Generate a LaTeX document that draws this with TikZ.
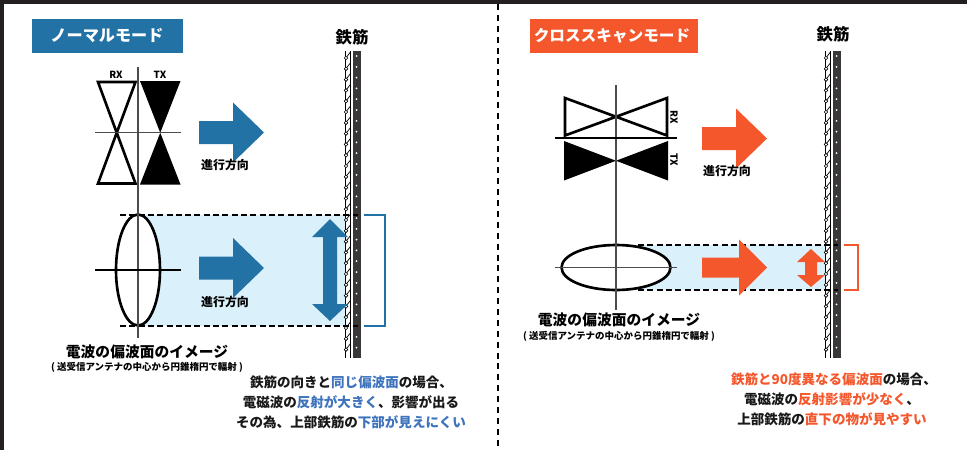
\documentclass[tikz,border=0pt]{standalone}
\usepackage{fontspec}
\setmainfont{Noto Sans CJK JP}
\usetikzlibrary{calc,positioning}
\definecolor{modeblue}{HTML}{2272A6}
\definecolor{modered}{HTML}{F4572C}
\definecolor{wavesky}{HTML}{DAF0FB}
\definecolor{barkgray}{HTML}{3A3738}
\definecolor{textblue}{HTML}{3F74BC}
\definecolor{framedark}{HTML}{231F20}
\tikzset{
    jptext/.style={font=\bfseries\fontsize{7.7pt}{9pt}\selectfont,text=black!90,inner sep=0pt,align=center},
    titletext/.style={font=\bfseries\fontsize{9.2pt}{11pt}\selectfont,text=white,inner sep=0pt},
    smalltext/.style={font=\bfseries\fontsize{6.8pt}{8pt}\selectfont,inner sep=0pt},
    capttext/.style={font=\bfseries\fontsize{8.4pt}{10pt}\selectfont,inner sep=0pt},
    subtext/.style={font=\bfseries\fontsize{5.4pt}{6pt}\selectfont,inner sep=0pt},
    antlabel/.style={font=\bfseries\fontsize{5.6pt}{6pt}\selectfont,inner sep=0pt},
    axisline/.style={line width=0.7pt,black!70},
    bowtie/.style={line width=1.5pt,black,line join=miter},
    waveedge/.style={line width=1pt,dash pattern=on 3.4pt off 1.9pt},
}
\begin{document}
\begin{tikzpicture}[x=0.02cm,y=-0.02cm]
    \useasboundingbox (0,0) rectangle (967,450);

    % frame and divider
    \fill[framedark] (0,0) rectangle (967,4);
    \fill[framedark] (0,0) rectangle (4,450);
    \draw[line width=0.75pt,black,dash pattern=on 3.4pt off 2.8pt] (498,4) -- (498,450);

    % mode titles
    \fill[modeblue] (32,19) rectangle (183,53);
    \node[titletext] (normaltitle) at (107,36) {ノーマルモード};
    \fill[modered] (530,19) rectangle (698,53);
    \node[titletext,font=\bfseries\fontsize{8.9pt}{11pt}\selectfont] (crosstitle) at (612,36) {クロススキャンモード};

    % beam areas
    \fill[wavesky] (138,215) rectangle (345,326);
    \fill[wavesky] (638,245) rectangle (825,290);

    % rebar columns
    \foreach \bar in {345,825}{
        \fill[white] (\bar,51) rectangle (\bar+6,358);
        \fill[barkgray] (\bar+8,51) rectangle (\bar+16,358);
        \draw[line width=0.5pt] (\bar,51) -- (\bar,358);
        \draw[line width=0.5pt] (\bar+5.5,51) -- (\bar+5.5,358);
        \foreach \rung in {56,66.8,...,356}{
            \draw[line width=0.4pt] (\bar,\rung+3) -- (\bar+5.5,\rung-4);
            \filldraw[fill=white,line width=0.35pt] (\bar+1,\rung+2) circle (1.8);
            \fill[white] (\bar+11.5,\rung) circle (1);
        }
    }
    \node[capttext,font=\bfseries\fontsize{9.3pt}{11pt}\selectfont] (rebarleft) at (352,37) {鉄筋};
    \node[capttext,font=\bfseries\fontsize{9.3pt}{11pt}\selectfont] (rebarright) at (833,34) {鉄筋};

    % antenna of the normal mode
    \draw[bowtie] (98,82) -- (135.5,82) -- (98,183.5) -- (135.5,183.5) -- cycle;
    \fill[black] (140,81) -- (180.5,81) -- (140,184.5) -- (180.5,184.5) -- cycle;
    \draw[axisline] (138,67) -- (138,210);
    \draw[axisline] (95,132.5) -- (181,132.5);
    \node[antlabel] (rxleft) at (116,75) {RX};
    \node[antlabel] (txleft) at (160,75) {TX};

    % antenna of the cross scan mode
    \draw[bowtie] (565,98) -- (667,135.5) -- (667,98) -- (565,135.5) -- cycle;
    \fill[black] (564,141) -- (668,180.5) -- (668,141) -- (564,180.5) -- cycle;
    \draw[axisline] (616,85) -- (616,230);
    \draw[line width=0.7pt,black] (555,138) -- (677,138);
    \node[antlabel,rotate=-90] (rxright) at (674,117) {RX};
    \node[antlabel,rotate=-90] (txright) at (674,160) {TX};

    % polarization ellipses
    \filldraw[fill=white,line width=1.5pt] (138,270) ellipse (22 and 55.5);
    \draw[axisline] (138,200) -- (138,338);
    \draw[line width=0.6pt] (95,270) -- (181,270);
    \filldraw[fill=white,line width=1.5pt] (616,267.5) ellipse (54.5 and 22.5);
    \draw[axisline] (616,225) -- (616,310);
    \draw[axisline] (555,267.5) -- (677,267.5);

    % wave edges
    \draw[waveedge] (120,215) -- (358,215);
    \draw[waveedge] (120,326) -- (358,326);
    \draw[waveedge] (638,245) -- (838,245);
    \draw[waveedge] (638,290) -- (838,290);

    % direction arrows
    \foreach \mycol/\x/\y/\neck/\half/\wide/\head in {
        modeblue/199/132.5/233/11.5/30/31,
        modeblue/199/268/233/11.5/30/31,
        modered/702/138.5/736/11.5/30/31,
        modered/702/267.5/739/10/28/28}{
        \fill[\mycol] (\x,\y-\half) -- (\neck,\y-\half) -- (\neck,\y-\wide) -- (\neck+\head,\y)
            -- (\neck,\y+\wide) -- (\neck,\y+\half) -- (\x,\y+\half) -- cycle;
    }
    \node[smalltext] (dirone) at (225,165) {進行方向};
    \node[smalltext] (dirtwo) at (225,302) {進行方向};
    \node[smalltext] (dirthree) at (727,171) {進行方向};

    % reflection arrows
    \fill[modeblue] (330,219) -- (348,237) -- (337,237) -- (337,304) -- (348,304) -- (330,321)
        -- (312,304) -- (323,304) -- (323,237) -- (312,237) -- cycle;
    \fill[modered] (811,249) -- (825,262) -- (817,262) -- (817,275) -- (825,275) -- (811,287)
        -- (797,275) -- (805,275) -- (805,262) -- (797,262) -- cycle;

    % reflection brackets
    \draw[modeblue,line width=1.5pt] (364,215) -- (385,215) -- (385,326) -- (364,326);
    \draw[modered,line width=1.5pt] (844,245) -- (858,245) -- (858,290) -- (844,290);

    % captions
    \node[capttext] (captleft) at (147,352) {電波の偏波面のイメージ};
    \node[subtext] (subleft) at (147,367) {( 送受信アンテナの中心から円錐楕円で輻射 )};
    \node[capttext] (captright) at (619,320) {電波の偏波面のイメージ};
    \node[subtext] (subright) at (619,336) {( 送受信アンテナの中心から円錐楕円で輻射 )};

    % explanations
    \node[jptext] (noteleft1) at (351.5,382) {鉄筋の向きと\textcolor{textblue}{同じ偏波面}の場合、};
    \node[jptext] (noteleft2) at (351,402) {電磁波の\textcolor{textblue}{反射が大きく}、影響が出る};
    \node[jptext] (noteleft3) at (351,422) {その為、上部鉄筋の\textcolor{textblue}{下部が見えにくい}};
    \node[jptext] (noteright1) at (834,379) {\textcolor{modered}{鉄筋と90度異なる偏波面}の場合、};
    \node[jptext] (noteright2) at (832,399) {電磁波の\textcolor{modered}{反射影響が少なく}、};
    \node[jptext] (noteright3) at (832,419) {上部鉄筋の\textcolor{modered}{直下の物が見やすい}};
\end{tikzpicture}
\end{document}
